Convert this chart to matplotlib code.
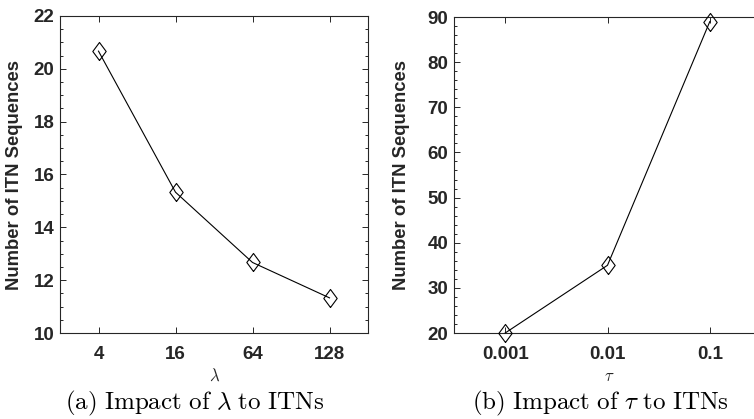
import matplotlib
matplotlib.use("Agg")
import matplotlib.pyplot as plt
from matplotlib.ticker import MultipleLocator

plt.rcParams['mathtext.fontset'] = 'cm'

# data
lambdaLabels = ['4', '16', '64', '128']
lambdaValues = [20.67, 15.33, 12.67, 11.33]
tauLabels = ['0.001', '0.01', '0.1']
tauValues = [20, 35, 89]

textColor = '#262626'
diamond = [(0, -1), (0.74, 0), (0, 1), (-0.74, 0), (0, -1)]

fig = plt.figure(figsize=(7.54, 4.19), dpi=100)
axA = fig.add_axes([60/754, 86/419, 308/754, 317/419])
axB = fig.add_axes([454/754, 86/419, 307/754, 316/419])


def styleAxes(ax, labels, values, ylim, minor):
    x = list(range(1, len(labels) + 1))
    ax.plot(x, values, color='black', lw=0.8, marker=diamond, markersize=13,
            markerfacecolor='none', markeredgecolor='black', markeredgewidth=0.8,
            clip_on=False, zorder=3)
    ax.set_xlim(0.5, len(labels) + 0.5)
    ax.set_ylim(*ylim)
    ax.set_xticks(x)
    ax.set_xticklabels(labels)
    ax.yaxis.set_minor_locator(MultipleLocator(minor))
    ax.tick_params(which='both', direction='in', top=True, right=True,
                   colors=textColor, width=0.7)
    ax.tick_params(which='major', length=4, labelsize=13.5, pad=4)
    ax.tick_params(axis='x', which='major', pad=9)
    ax.tick_params(which='minor', length=2)
    for lab in ax.get_xticklabels() + ax.get_yticklabels():
        lab.set_fontweight('bold')
        lab.set_family('Liberation Sans')
    for sp in ax.spines.values():
        sp.set_color(textColor)
        sp.set_linewidth(0.8)
    ax.set_ylabel('Number of ITN Sequences', fontsize=13.3, fontweight='bold',
                  family='Liberation Sans', color=textColor)


styleAxes(axA, lambdaLabels, lambdaValues, (10, 22), 0.5)
axA.yaxis.set_major_locator(MultipleLocator(2))
axA.yaxis.set_label_coords(-0.12, 0.5)

styleAxes(axB, tauLabels, tauValues, (20, 90), 2)
axB.yaxis.set_major_locator(MultipleLocator(10))
axB.yaxis.set_label_coords(-0.143, 0.5)

fig.text(215/754, 1 - 376/419, r'$\lambda$', ha='center', va='center', fontsize=12, color=textColor)
fig.text(609/754, 1 - 376/419, r'$\tau$', ha='center', va='center', fontsize=12, color=textColor)

fig.text(195/754, 1 - 409/419, r'$\mathrm{(a)\ Impact\ of\ }\lambda\mathrm{\ to\ ITNs}$',
         ha='center', va='baseline', fontsize=18)
fig.text(600/754, 1 - 409/419, r'$\mathrm{(b)\ Impact\ of\ }\tau\mathrm{\ to\ ITNs}$',
         ha='center', va='baseline', fontsize=18)

fig.savefig('out.png', dpi=100)
